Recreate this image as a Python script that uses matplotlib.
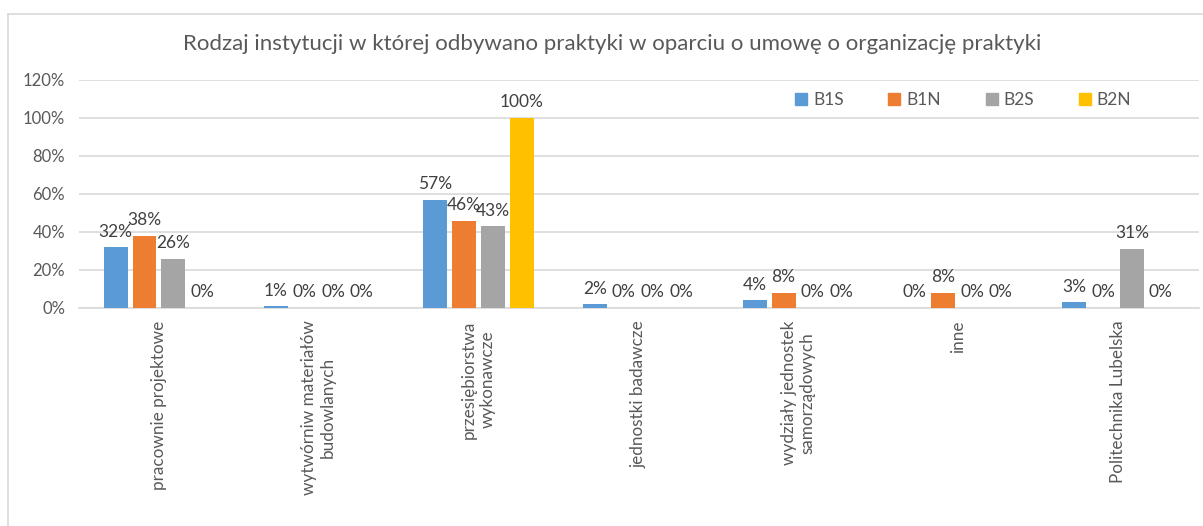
import matplotlib
matplotlib.use("Agg")
import matplotlib.pyplot as plt
import numpy as np
from matplotlib.lines import Line2D

plt.rcParams['font.family'] = ['Lato', 'DejaVu Sans']

title = "Rodzaj instytucji w której odbywano praktyki w oparciu o umowę o organizację praktyki"
categories = [
    "pracownie projektowe",
    "wytwórniw materiałów\nbudowlanych",
    "przesiębiorstwa\nwykonawcze",
    "jednostki badawcze",
    "wydziały jednostek\nsamorządowych",
    "inne",
    "Politechnika Lubelska",
]
series_names = ["B1S", "B1N", "B2S", "B2N"]
B1S = [32, 1, 57, 2, 4, 0, 3]
B1N = [38, 0, 46, 0, 8, 8, 0]
B2S = [26, 0, 43, 0, 0, 0, 31]
B2N = [0, 0, 100, 0, 0, 0, 0]
series_values = [B1S, B1N, B2S, B2N]
colors = ["#5B9BD5", "#ED7D31", "#A5A5A5", "#FFC000"]
yticks = [0, 20, 40, 60, 80, 100, 120]

W, H = 1203, 526
fig = plt.figure(figsize=(W / 100, H / 100), dpi=100)
ax = fig.add_axes([79 / W, 1 - 308 / H, 1120 / W, 228 / H])

x = np.arange(len(categories))
step = 0.18
bw = 0.15
for i, (name, vals, c) in enumerate(zip(series_names, series_values, colors)):
    pos = x + (i - 1.5) * step
    ax.bar(pos, vals, width=bw, color=c, label=name, zorder=3)
    for p, v in zip(pos, vals):
        ax.text(p, v + 4.0, f"{v}%", ha="center", va="bottom",
                fontsize=12.5, color="#404040", zorder=4)

ax.set_xlim(-0.5, len(categories) - 0.5 + 0.01)
ax.set_ylim(0, 120)
ax.set_yticks(yticks)
ax.set_yticklabels([f"{t}%" for t in yticks], fontsize=12, color="#595959")
ax.set_xticks(x)
ax.set_xticklabels(categories, rotation=90, fontsize=12.3, color="#595959",
                   va="top", ha="center", multialignment="center")
ax.tick_params(axis="both", length=0)
ax.tick_params(axis="x", pad=9)
ax.tick_params(axis="y", pad=10)
ax.grid(axis="y", color="#D9D9D9", linewidth=1.2, zorder=0)
for s in ["top", "right", "left"]:
    ax.spines[s].set_visible(False)
ax.spines["bottom"].set_color("#D9D9D9")
ax.spines["bottom"].set_linewidth(1.2)
ax.spines["bottom"].set_zorder(1)

handles = [Line2D([], [], marker="s", linestyle="none", markersize=9,
                  markerfacecolor=c, markeredgecolor=c) for c in colors]
ax.legend(handles, series_names, loc="center", bbox_to_anchor=(962 / W, 1 - 100 / H),
          bbox_transform=fig.transFigure, ncol=4, frameon=False, fontsize=12.5,
          handletextpad=0.2, columnspacing=2.4, handlelength=1.0, labelcolor="#595959")

fig.text(612 / W, 1 - 44 / H, title, ha="center", va="center", fontsize=16,
         color="#595959")

# chart border (left and top)
fig.add_artist(Line2D([8 / W, 8 / W], [0, 1 - 14 / H], transform=fig.transFigure,
                      color="#D9D9D9", linewidth=1.2))
fig.add_artist(Line2D([8 / W, 1], [1 - 14 / H, 1 - 14 / H], transform=fig.transFigure,
                      color="#D9D9D9", linewidth=1.2))

fig.savefig("out.png", dpi=100, facecolor="white")
